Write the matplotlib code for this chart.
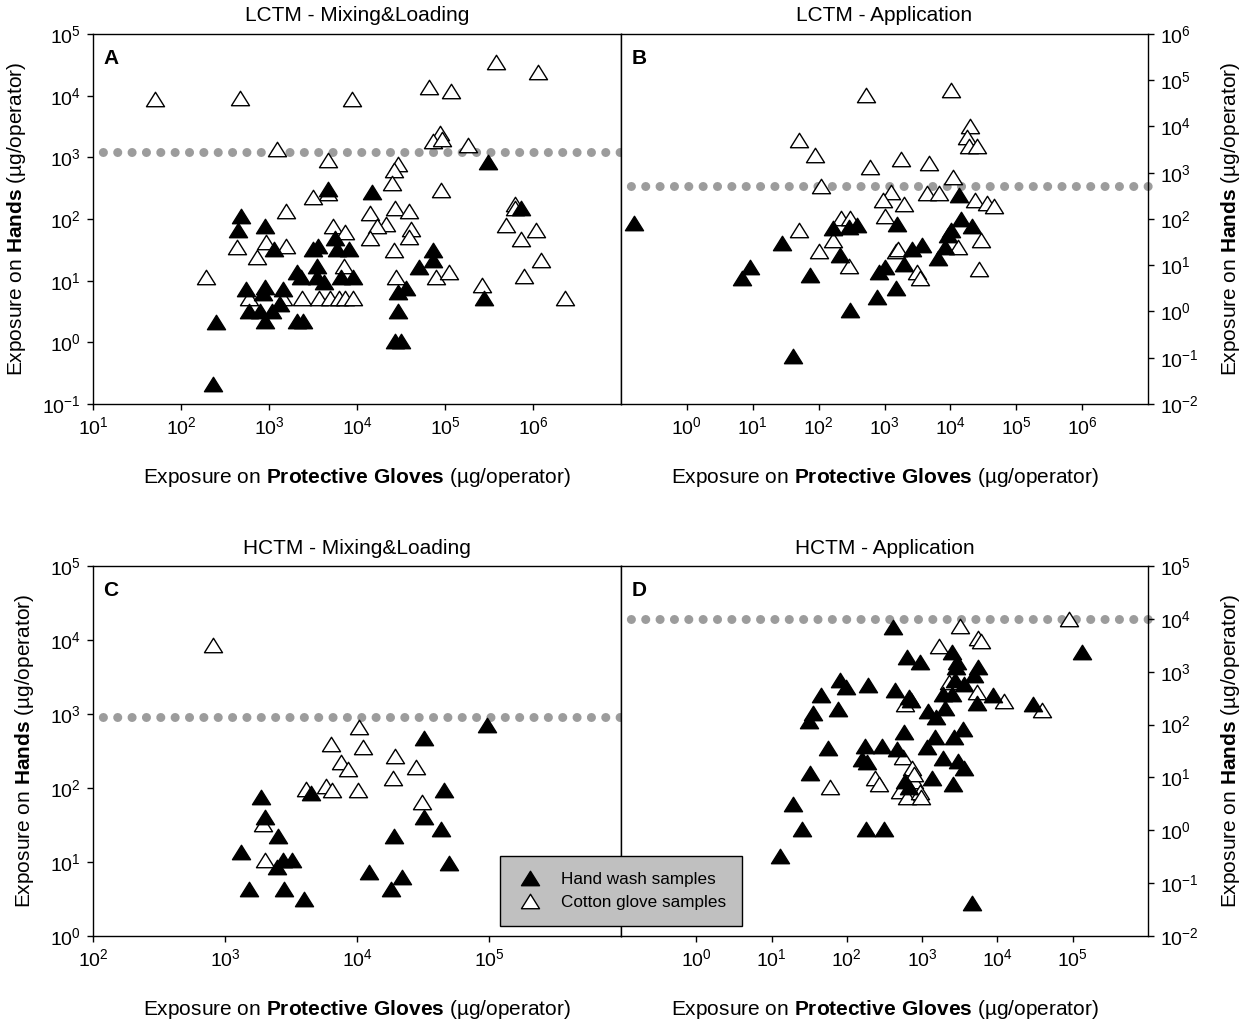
import numpy as np
import matplotlib
matplotlib.use('Agg')
import matplotlib.pyplot as plt
from matplotlib.lines import Line2D
from matplotlib.path import Path

plt.rcParams['font.family'] = ['Liberation Sans', 'DejaVu Sans']
plt.rcParams['mathtext.fontset'] = 'custom'
plt.rcParams['mathtext.rm'] = 'Liberation Sans'
plt.rcParams['mathtext.bf'] = 'Liberation Sans:bold'
plt.rcParams['font.size'] = 14

# ---- data (ug/operator) ----
# A: LCTM - Mixing&Loading
a_wash_x = [230, 250, 480, 440, 890, 1150, 555, 590, 890, 850, 800, 910, 1070, 1320, 1450,
            2100, 2300, 2100, 2450, 3150, 3650, 3500, 3550, 4250, 4700, 5600, 6000, 8100,
            6600, 8900, 15000, 74000, 74000, 50000, 36500, 29000, 29500, 27000, 31500,
            310000, 280000, 725000]
a_wash_y = [0.21, 2.1, 112, 67, 78, 33, 7.2, 3.2, 8, 6.2, 3.2, 2.2, 3.2, 4.2, 7.2,
            14, 11.3, 2.2, 2.2, 33, 36, 17, 11.5, 9.6, 305, 49, 33, 33,
            11.5, 11.5, 276, 31, 22, 16.6, 7.6, 6.5, 3.2, 1.07, 1.07,
            830, 5.3, 149]
a_cot_x = [51, 465, 8700, 66000, 118000, 380000, 1150000, 1230, 87000, 74000, 93000, 182000,
           4700, 29500, 26000, 25000, 89000, 4700, 3150, 1550, 27000, 39000, 14000, 21500,
           17000, 5300, 7400, 41500, 39000, 14000, 930, 437, 1550, 740, 7100, 26000,
           620000, 630000, 490000, 1070000, 725000, 1230000, 800000, 265000, 2300000,
           190, 28000, 78000, 110000, 590, 1450, 2350, 3700, 4900, 6200, 7400, 8900]
a_cot_y = [8700, 9100, 8700, 14000, 12000, 35000, 24500, 1350, 2500, 1870, 2000, 1600,
           910, 780, 620, 390, 295, 260, 225, 137, 149, 137, 127, 83,
           77, 77, 62, 70, 51, 49, 43, 35, 36, 24.5, 17, 32,
           178, 149, 79, 67, 47, 22, 12, 8.4, 5.3,
           11.5, 11.5, 11.5, 14, 5.3, 5.3, 5.3, 5.3, 5.3, 5.3, 5.3, 5.3]
a_limit = 1200

# B: LCTM - Application
b_wash_x = [0.156, 6.9, 9.1, 27.6, 74, 40.5, 163, 210, 290, 380, 295, 775, 830, 1000, 1480,
            1540, 2000, 2600, 3700, 6500, 8300, 9100, 10400, 14600, 21000, 13600]
b_wash_y = [83, 5.2, 9.3, 31, 6.2, 0.11, 63, 16.6, 68, 74, 1.07, 2.1, 7.2, 9.3, 3.2,
            78, 10.7, 22, 28, 14, 25, 45, 57, 102, 70, 330]
b_cot_x = [530, 10400, 20000, 18000, 19000, 25000, 50, 89, 610, 1800, 4700, 11000, 108,
           1240, 4450, 6800, 960, 24000, 36000, 46000, 1950, 1030, 215, 300, 50, 163,
           100, 1480, 1600, 13200, 29000, 290, 3100, 3450, 27000]
b_cot_y = [48000, 63000, 10200, 5800, 3800, 3800, 5100, 2400, 1350, 1950, 1600, 820, 510,
           385, 370, 360, 262, 252, 220, 187, 210, 115, 103, 103, 59, 36,
           20.5, 20.5, 22, 24.5, 36, 9.5, 7.2, 5.4, 8.5]
b_limit = 525

# C: HCTM - Mixing&Loading
c_wash_x = [1870, 2000, 2500, 1320, 2750, 3200, 2460, 1520, 2800, 4000, 4450, 32000, 96000,
            46000, 32000, 43000, 19000, 50000, 12300, 22000, 18200]
c_wash_y = [76, 41, 22.5, 13.8, 10.8, 10.8, 8.5, 4.3, 4.3, 3.2, 85, 480, 720,
            95, 40, 27.5, 22.5, 9.8, 7.4, 6.3, 4.3]
c_cot_x = [805, 10300, 6300, 11200, 19500, 7600, 8500, 28000, 18700, 4100, 5850, 6500,
           10200, 31000, 1940, 2000]
c_cot_y = [8500, 660, 390, 360, 270, 225, 183, 193, 138, 98, 105, 95,
           95, 65, 32.5, 10.5]
c_limit = 910

# D: HCTM - Application
d_wash_x = [415, 133000, 635, 930, 2500, 2900, 2830, 5600, 4900, 2760, 3650, 80, 96, 192,
            46, 440, 665, 710, 1900, 2470, 8700, 5300, 29300, 35, 31.6, 77, 1180, 1520,
            2030, 580, 1480, 2670, 3500, 56, 173, 295, 470, 1150, 158, 185, 1900, 3000,
            3550, 32.4, 1340, 2580, 600, 660, 19, 25.3, 179, 315, 13, 4550]
d_wash_y = [7000, 2350, 1900, 1520, 2350, 1520, 1230, 1230, 850, 690, 590, 690, 515, 550,
            370, 445, 330, 290, 380, 380, 355, 257, 240, 166, 117, 200, 178, 138,
            205, 72, 58, 59, 83, 36, 38.5, 38.5, 35, 37, 22.5, 19.5, 23.5, 20.5,
            15, 12.1, 9.7, 7.6, 8.7, 6.5, 3.2, 1.05, 1.05, 1.05, 0.33, 0.043]
d_cot_x = [89000, 3200, 5600, 6100, 1680, 2250, 5300, 12300, 38500, 600, 550, 740, 235,
           268, 59, 510, 620, 790, 930, 960, 770]
d_cot_y = [9800, 7300, 4250, 3800, 3000, 640, 415, 278, 190, 240, 24, 15, 9.8,
           7.6, 6.5, 5.5, 4.3, 8.7, 5.2, 4.3, 11.8]
d_limit = 9900

titles = ['LCTM - Mixing&Loading', 'LCTM - Application', 'HCTM - Mixing&Loading', 'HCTM - Application']
letters = ['A', 'B', 'C', 'D']
xlab = r'Exposure on $\mathbf{Protective\ Gloves}$ (µg/operator)'
ylab = r'Exposure on $\mathbf{Hands}$ (µg/operator)'

W, H = 1247, 1021
fig = plt.figure(figsize=(W / 100, H / 100), dpi=100)

def box(l, t, r, b):
    return [l / W, 1 - b / H, (r - l) / W, (b - t) / H]

axA = fig.add_axes(box(93, 34, 621, 404))
axB = fig.add_axes(box(621, 34, 1148, 404))
axC = fig.add_axes(box(93, 566, 621, 936))
axD = fig.add_axes(box(621, 566, 1148, 936))

# closed triangle, a bit flatter than matplotlib's '^'
tri = Path([(0, 0.8), (-1, -0.8), (1, -0.8), (0, 0.8)],
           [Path.MOVETO, Path.LINETO, Path.LINETO, Path.CLOSEPOLY])
ms = 13

panels = [
    (axA, a_wash_x, a_wash_y, a_cot_x, a_cot_y, a_limit, (10, 1e7), (0.1, 1e5), range(1, 7), range(-1, 6), 'left'),
    (axB, b_wash_x, b_wash_y, b_cot_x, b_cot_y, b_limit, (0.1, 1e7), (0.01, 1e6), range(0, 7), range(-2, 7), 'right'),
    (axC, c_wash_x, c_wash_y, c_cot_x, c_cot_y, c_limit, (100, 1e6), (1, 1e5), range(2, 6), range(0, 6), 'left'),
    (axD, d_wash_x, d_wash_y, d_cot_x, d_cot_y, d_limit, (0.1, 1e6), (0.01, 1e5), range(0, 6), range(-2, 6), 'right'),
]

for i, (ax, wx, wy, cx, cy, lim, xl, yl, xt, yt, side) in enumerate(panels):
    ax.set_xscale('log')
    ax.set_yscale('log')
    ax.set_xlim(xl)
    ax.set_ylim(yl)
    ax.set_xticks([10.0 ** k for k in xt])
    ax.set_yticks([10.0 ** k for k in yt])
    ax.minorticks_off()
    # dotted reference level
    ax.axhline(lim, color='#9c9c9c', lw=6.5, linestyle=(0.5, (0.01, 1.58)),
               dash_capstyle='round', zorder=1, clip_on=False)
    ax.plot(cx, cy, linestyle='none', marker=tri, ms=ms, mfc='white', mec='black',
            mew=1.0, zorder=3, clip_on=False)
    ax.plot(wx, wy, linestyle='none', marker=tri, ms=ms, mfc='black', mec='black',
            mew=1.0, zorder=3, clip_on=False)
    ax.tick_params(which='major', direction='out', length=4, width=1, labelsize=14, pad=5)
    for s in ax.spines.values():
        s.set_linewidth(1)
    if side == 'right':
        ax.yaxis.tick_right()
        ax.yaxis.set_label_position('right')
        ax.set_ylabel(ylab, fontsize=15, labelpad=14)
    else:
        ax.set_ylabel(ylab, fontsize=15, labelpad=10)
    ax.set_xlabel(xlab, fontsize=15, labelpad=20)
    ax.set_title(titles[i], fontsize=15, pad=9)
    ax.text(0.02, 0.96, letters[i], transform=ax.transAxes, fontsize=15,
            fontweight='bold', ha='left', va='top')

handles = [
    Line2D([], [], linestyle='none', marker=tri, ms=ms, mfc='black', mec='black', mew=1.0),
    Line2D([], [], linestyle='none', marker=tri, ms=ms, mfc='white', mec='black', mew=1.0),
]
leg = fig.legend(handles, ['Hand wash samples', 'Cotton glove samples'], loc='center',
                 bbox_to_anchor=(621 / W, 1 - 891 / H), fontsize=12.3, frameon=True,
                 fancybox=False, framealpha=1, facecolor='#c0c0c0', edgecolor='black',
                 borderpad=0.95, handletextpad=1.0, labelspacing=0.45, borderaxespad=0,
                 handlelength=1.6)
leg.get_frame().set_linewidth(1)

fig.savefig('out.png', dpi=100)
